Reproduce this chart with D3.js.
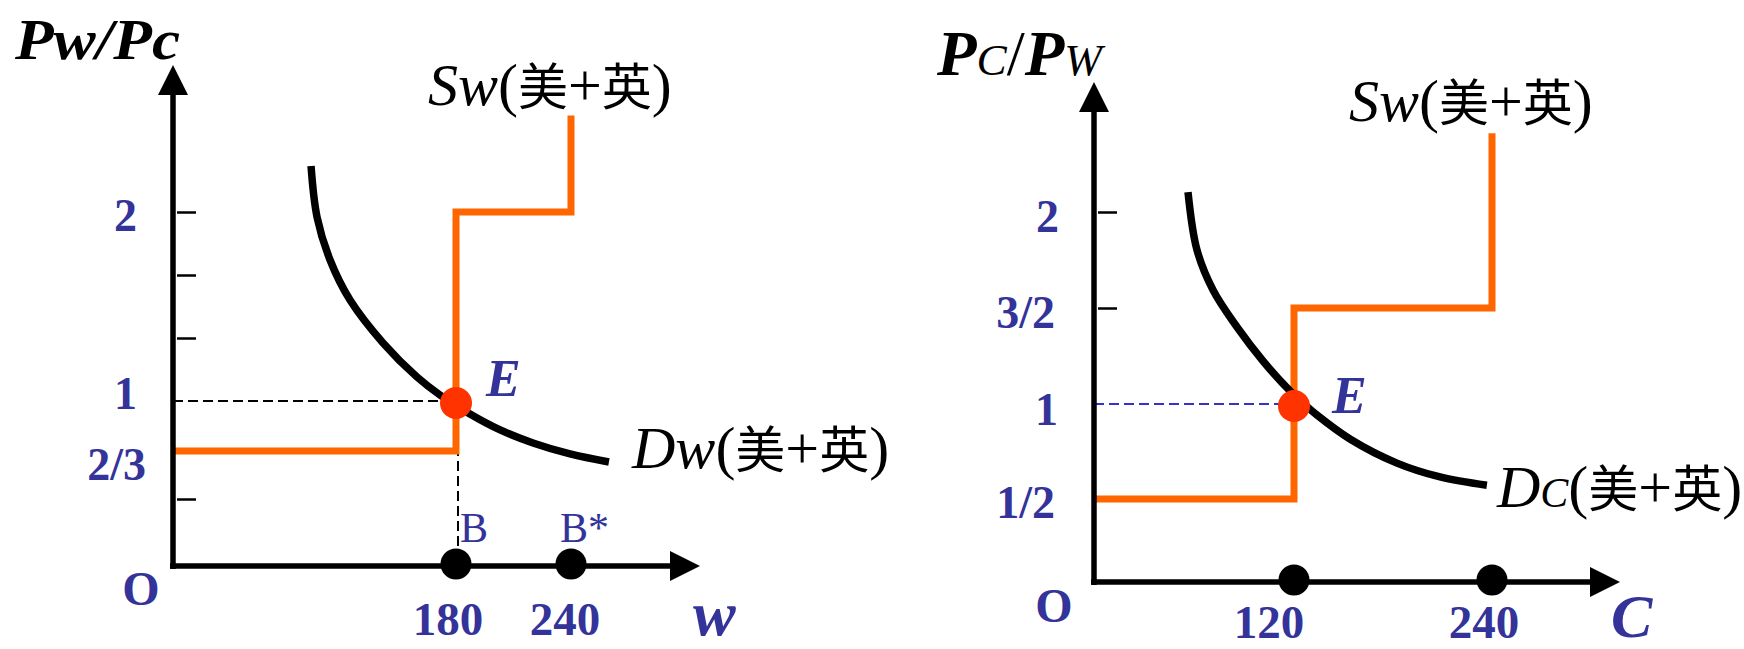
<!DOCTYPE html>
<html><head><meta charset="utf-8">
<script src="https://cdn.jsdelivr.net/npm/d3@7"></script>
<style>
html,body{margin:0;padding:0;background:#fff;}
svg{display:block;}
</style></head>
<body>
<svg id="chart" width="1744" height="649"></svg>
<script>
// ================= DATA =================
// Left panel: wheat (w), price ratio Pw/Pc
const wheatQtyMarks = [180, 240];
const wheatQtyLabels = ["180", "240"];
const wheatPointLabels = ["B", "B*"];
const wheatPriceTicks = [1/3, 4/3, 5/3, 2];
const wheatPriceLabelValues = [2, 1, 2/3];
const wheatPriceLabels = ["2", "1", "2/3"];
const wheatSupplyQ = [0, 180, 180, 240, 240];
const wheatSupplyP = [2/3, 2/3, 2, 2, 2.51];
const wheatDemandQ = [87.8, 91.6, 99.9, 112.6, 133.6, 155.2, 169.8, 180, 187.3, 203, 220.2, 239.5, 259.8];
const wheatDemandP = [2.243, 1.974, 1.746, 1.534, 1.307, 1.127, 1.032, 0.973, 0.913, 0.807, 0.72, 0.646, 0.59];
const wheatEquilibrium = [180, 1];

// Right panel: cloth (C), price ratio Pc/Pw
const clothQtyMarks = [120, 240];
const clothQtyLabels = ["120", "240"];
const clothPriceTicks = [3/2, 2];
const clothPriceLabelValues = [2, 3/2, 1, 1/2];
const clothPriceLabels = ["2", "3/2", "1", "1/2"];
const clothSupplyQ = [0, 120, 120, 240, 240];
const clothSupplyP = [1/2, 1/2, 3/2, 3/2, 2.41];
const clothDemandQ = [56.4, 61.8, 71.4, 85.8, 101.4, 117.6, 125.5, 133.9, 153.9, 182.4, 208.5, 236.9];
const clothDemandP = [2.104, 1.802, 1.594, 1.401, 1.224, 1.068, 1.005, 0.942, 0.816, 0.689, 0.616, 0.572];
const clothEquilibrium = [120, 1];

const originLabel = "O";
const cjkPart = ["美", "+", "英"];

// ================= STYLE / LAYOUT =================
const BLUE = "#333399", ORANGE = "#ff6600", RED = "#ff3300";
const SERIF = "'Liberation Serif','Times New Roman',serif";
const CJK = "'Noto Sans CJK SC','Noto Sans CJK TC',sans-serif";

const svg = d3.select("#chart");
svg.append("rect").attr("width",1744).attr("height",649).attr("fill","#fff");

// Scales (diagram is hand drawn, so polylinear)
const xL = d3.scaleLinear().domain([0,180,240]).range([173,456,571]);
const yL = d3.scaleLinear().domain([0,1/3,2/3,1,2]).range([566,499,451,401,212]);
const xR = d3.scaleLinear().domain([0,120,240]).range([1094,1294,1492]);
const yR = d3.scaleLinear().domain([0,0.5,1,1.5,2]).range([582,499,404,308,212]);

function panel(cfg){
  const g = svg.append("g");
  const {x, y} = cfg;
  const x0 = x(0), y0 = y(0);

  // dashed guide lines
  g.append("line").attr("x1", x0).attr("x2", x(cfg.eq[0]))
    .attr("y1", y(cfg.eq[1])).attr("y2", y(cfg.eq[1]))
    .attr("stroke", cfg.dashColor).attr("stroke-width", 2).attr("stroke-dasharray","10,5");
  if (cfg.vDash) {
    g.append("line").attr("x1", x(cfg.eq[0])+2).attr("x2", x(cfg.eq[0])+2)
      .attr("y1", y(cfg.eq[1])).attr("y2", y0)
      .attr("stroke", "#000").attr("stroke-width", 2).attr("stroke-dasharray","10,5");
  }

  // supply step line
  const sPts = cfg.sQ.map((q,i)=>[q, cfg.sP[i]]);
  g.append("path").datum(sPts)
    .attr("d", d3.line().x(d=>x(d[0])).y(d=>y(d[1])))
    .attr("fill","none").attr("stroke",ORANGE).attr("stroke-width",7)
    .attr("stroke-linejoin","miter");

  // demand curve
  const dPts = cfg.dQ.map((q,i)=>[q, cfg.dP[i]]);
  g.append("path").datum(dPts)
    .attr("d", d3.line().x(d=>x(d[0])).y(d=>y(d[1])).curve(d3.curveCatmullRom.alpha(0.5)))
    .attr("fill","none").attr("stroke","#000").attr("stroke-width",7.5);

  // ticks via d3 axis
  const tickG = g.append("g").attr("transform", `translate(${x0+4},0)`)
    .call(d3.axisRight(y).tickValues(cfg.ticks).tickSize(19).tickFormat(""));
  tickG.select(".domain").remove();
  tickG.selectAll(".tick line").attr("stroke","#000").attr("stroke-width",2.5);

  // axes with arrows
  g.append("line").attr("x1",x0).attr("x2",x0).attr("y1",y0+3).attr("y2",cfg.yTip+28)
    .attr("stroke","#000").attr("stroke-width",5.5);
  g.append("path").attr("d",`M${x0},${cfg.yTip}L${x0-15},${cfg.yTip+30}L${x0+15},${cfg.yTip+30}Z`).attr("fill","#000");
  g.append("line").attr("x1",x0-3).attr("x2",cfg.xTip-28).attr("y1",y0).attr("y2",y0)
    .attr("stroke","#000").attr("stroke-width",5.5);
  g.append("path").attr("d",`M${cfg.xTip},${y0}L${cfg.xTip-30},${y0-15}L${cfg.xTip-30},${y0+15}Z`).attr("fill","#000");

  // quantity dots
  g.selectAll("circle.q").data(cfg.qMarks).enter().append("circle")
    .attr("cx", d=>x(d)).attr("cy", y0-2).attr("r", 15.5).attr("fill","#000");

  // equilibrium dot
  g.append("circle").attr("cx", x(cfg.eq[0])).attr("cy", y(cfg.eq[1])+2).attr("r", 16).attr("fill", RED);

  // price labels
  g.selectAll("text.p").data(cfg.pVals).enter().append("text")
    .attr("x",(d,i)=>x0+cfg.pNudge[i][0]).attr("y",(d,i)=>y(d)+cfg.pNudge[i][1])
    .attr("text-anchor","end").attr("font-family",SERIF).attr("font-weight","bold")
    .attr("font-size",46).attr("fill",BLUE).text((d,i)=>cfg.pLabels[i]);

  // origin
  g.append("text").attr("x",x0+cfg.oD[0]).attr("y",y0+cfg.oD[1]).attr("text-anchor","middle")
    .attr("font-family",SERIF).attr("font-weight","bold").attr("font-size",48).attr("fill",BLUE).text(originLabel);

  // quantity labels
  g.selectAll("text.q").data(cfg.qMarks).enter().append("text")
    .attr("x",(d,i)=>x(d)+cfg.qNudge[i]).attr("y",y0+cfg.qDy).attr("text-anchor","middle")
    .attr("font-family",SERIF).attr("font-weight","bold").attr("font-size",47).attr("fill",BLUE)
    .text((d,i)=>cfg.qLabels[i]);

  // E label
  g.append("text").attr("x",x(cfg.eq[0])+cfg.eLab[0]).attr("y",y(cfg.eq[1])+cfg.eLab[1])
    .attr("font-family",SERIF).attr("font-weight","bold").attr("font-style","italic")
    .attr("font-size",52).attr("fill",BLUE).text("E");
  return g;
}

function curveLabel(g, px, py, letter, sub, smallCaps){
  const t = g.append("text").attr("x",px).attr("y",py).attr("fill","#000");
  t.append("tspan").attr("font-family",SERIF).attr("font-style","italic").attr("font-size",60).text(letter);
  const s = t.append("tspan").attr("font-family",SERIF).attr("font-style","italic").attr("font-size",60).text(sub);
  if (smallCaps) s.style("font-variant","small-caps");
  t.append("tspan").attr("font-family",SERIF).attr("font-size",60).text("(");
  t.append("tspan").attr("font-family",CJK).attr("font-size",50).text(cjkPart[0]);
  t.append("tspan").attr("font-family",SERIF).attr("font-size",60).text(cjkPart[1]);
  t.append("tspan").attr("font-family",CJK).attr("font-size",50).text(cjkPart[2]);
  t.append("tspan").attr("font-family",SERIF).attr("font-size",60).text(")");
}

// ---------- left panel ----------
const gL = panel({
  x:xL, y:yL, sQ:wheatSupplyQ, sP:wheatSupplyP, dQ:wheatDemandQ, dP:wheatDemandP,
  eq:wheatEquilibrium, ticks:wheatPriceTicks, qMarks:wheatQtyMarks, qLabels:wheatQtyLabels,
  pVals:wheatPriceLabelValues, pLabels:wheatPriceLabels,
  pNudge:[[-36,19],[-36,8],[-27,29]], qNudge:[-8,-6], qDy:69, oD:[-32,39],
  eLab:[30,-5], yTip:65, xTip:700, dashColor:"#000", vDash:true
});
// B, B* labels
gL.selectAll("text.b").data(wheatQtyMarks).enter().append("text")
  .attr("x",(d,i)=>xL(d)+[4,-11][i]).attr("y",yL(0)-24)
  .attr("font-family",SERIF).attr("font-size",42).attr("fill",BLUE).text((d,i)=>wheatPointLabels[i]);
// axis names
gL.append("text").attr("x",693).attr("y",635).attr("font-family",SERIF).attr("font-weight","bold")
  .attr("font-style","italic").attr("font-size",64).attr("fill",BLUE).text("w");
gL.append("text").attr("x",15).attr("y",59).attr("font-family",SERIF).attr("font-weight","bold")
  .attr("font-style","italic").attr("font-size",56).attr("fill","#000")
  .attr("textLength",165).attr("lengthAdjust","spacingAndGlyphs").text("Pw/Pc");
curveLabel(gL, 428, 105, "S", "w", false);
curveLabel(gL, 632, 468, "D", "w", false);

// ---------- right panel ----------
const gR = panel({
  x:xR, y:yR, sQ:clothSupplyQ, sP:clothSupplyP, dQ:clothDemandQ, dP:clothDemandP,
  eq:clothEquilibrium, ticks:clothPriceTicks, qMarks:clothQtyMarks, qLabels:clothQtyLabels,
  pVals:clothPriceLabelValues, pLabels:clothPriceLabels,
  pNudge:[[-35,20],[-39,20],[-36,21],[-39,19]], qNudge:[-25,-8], qDy:56, oD:[-40,40],
  eLab:[38,9], yTip:82, xTip:1620, dashColor:"#3333cc", vDash:false
});
gR.append("text").attr("x",1611).attr("y",637).attr("font-family",SERIF).attr("font-weight","bold")
  .attr("font-style","italic").attr("font-size",62).attr("fill",BLUE).text("C");
const tR = gR.append("text").attr("x",937).attr("y",75).attr("font-family",SERIF).attr("font-style","italic")
  .attr("font-size",63).attr("fill","#000").attr("textLength",165).attr("lengthAdjust","spacingAndGlyphs");
tR.append("tspan").attr("font-weight","bold").text("P");
tR.append("tspan").style("font-variant","small-caps").text("c");
tR.append("tspan").attr("font-style","normal").text("/");
tR.append("tspan").attr("font-weight","bold").text("P");
tR.append("tspan").style("font-variant","small-caps").text("w");
curveLabel(gR, 1349, 121, "S", "w", false);
curveLabel(gR, 1497, 507, "D", "c", true);
</script>
</body></html>
